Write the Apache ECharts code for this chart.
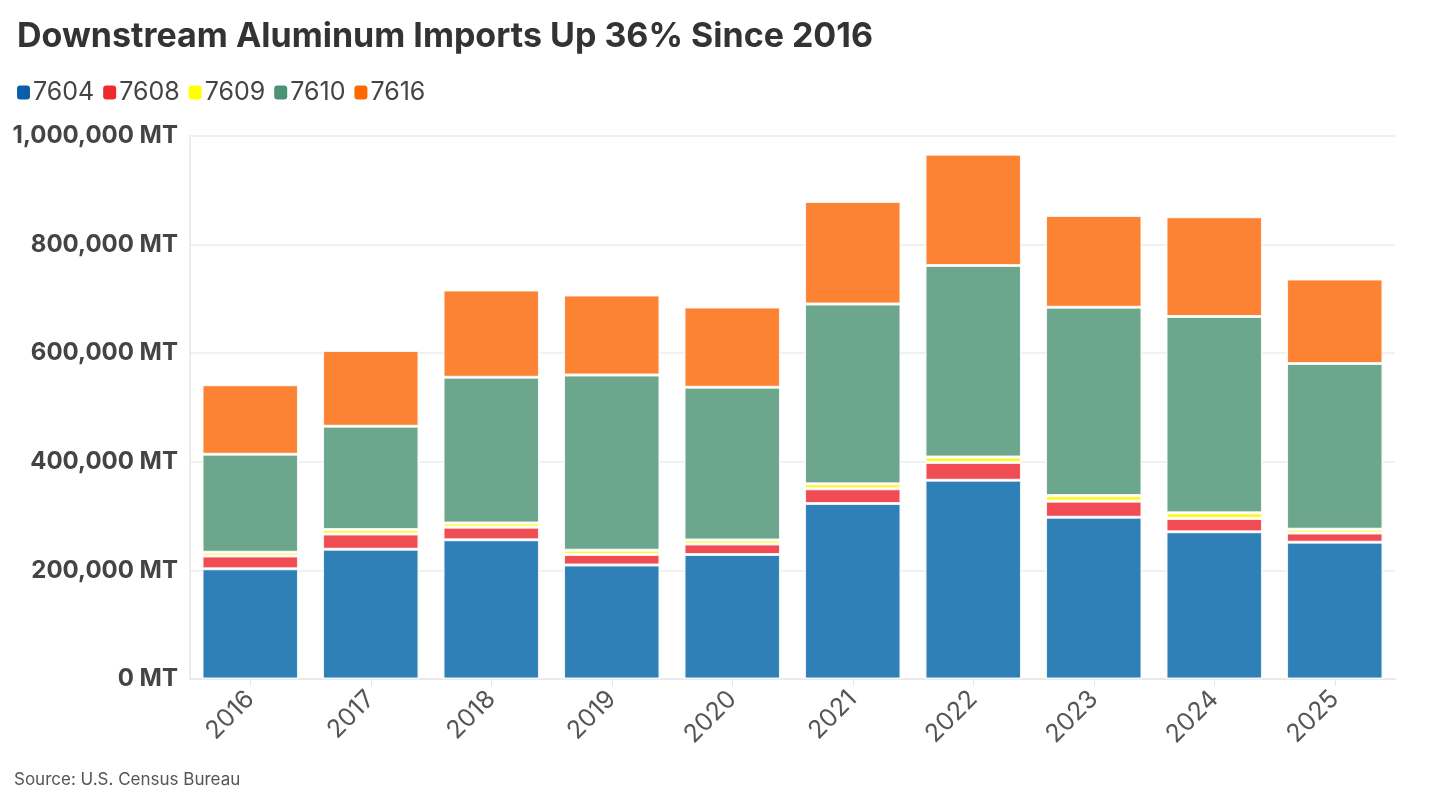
<!DOCTYPE html>
<html><head><meta charset="utf-8">
<script src="https://cdn.jsdelivr.net/npm/echarts@6/dist/echarts.min.js"></script>
<style>html,body{margin:0;padding:0;background:#fff;}#c{width:1431px;height:805px;}</style>
</head><body><div id="c"></div>
<script>
const years = ['2016','2017','2018','2019','2020','2021','2022','2023','2024','2025'];
const s7604 = [203000, 239000, 256500, 210000, 229500, 323000, 366000, 298000, 271000, 252000];
const s7608 = [23500, 28000, 23000, 19500, 19000, 27500, 32500, 29500, 24500, 17000];
const s7609 = [7000, 8500, 8000, 7500, 7500, 9000, 10500, 10500, 10500, 7000];
const s7610 = [180500, 190000, 268000, 323000, 281500, 331000, 352500, 346500, 361500, 305000];
const s7616 = [128000, 139500, 161000, 147000, 147500, 189000, 205000, 169000, 184000, 155500];
const seriesNames = ['7604','7608','7609','7610','7616'];
const yTicks = [0, 200000, 400000, 600000, 800000, 1000000];

const legendColors = ['#0a5fa8','#ee2a2a','#ffff00','#4a9473','#ff6a00'];
const barColors = ['#3080b8','#f04c53','#fff830','#6ca78d','#fc8334'];
const dataSets = [s7604, s7608, s7609, s7610, s7616];
const FONT = 'Inter, "Open Sans", sans-serif';

const chart = echarts.init(document.getElementById('c'));
chart.setOption({
  animation: false,
  textStyle: {fontFamily: FONT},
  title: {
    text: 'Downstream Aluminum Imports Up 36% Since 2016',
    left: 12, top: 15,
    textStyle: {fontSize: 34, fontWeight: 700, color: '#333', fontFamily: FONT}
  },
  legend: {
    left: 12, top: 75,
    itemWidth: 13, itemHeight: 14, itemGap: 9,
    icon: 'roundRect',
    textStyle: {fontSize: 25, color: '#444', fontFamily: FONT, padding: [0,0,0,-2]},
    data: seriesNames.map((n, i) => ({name: n, itemStyle: {color: legendColors[i], opacity: 1, borderWidth: 0}}))
  },
  grid: {left: 190, right: 36, top: 136, bottom: 126},
  xAxis: {
    type: 'category', data: years,
    axisLine: {lineStyle: {color: '#e6e6e6', width: 1.5}},
    axisTick: {show: true, alignWithLabel: true, length: 7, lineStyle: {color: '#e6e6e6'}},
    axisLabel: {rotate: 45, fontSize: 25, color: '#555', margin: 16, padding: [18,0,0,0], fontFamily: FONT}
  },
  yAxis: {
    type: 'value', min: 0, max: 1000000, interval: 200000,
    axisLine: {show: true, lineStyle: {color: '#e6e6e6', width: 1.5}},
    splitLine: {lineStyle: {color: '#ececec', width: 1.5}},
    axisLabel: {
      fontSize: 24, fontWeight: 700, color: '#444', margin: 12, fontFamily: FONT,
      formatter: v => yTicks.includes(v) ? v.toLocaleString('en-US') + ' MT' : ''
    }
  },
  series: seriesNames.map((n, i) => ({
    name: n, type: 'bar', stack: 'total',
    barCategoryGap: '20%',
    data: dataSets[i],
    itemStyle: {color: barColors[i], borderColor: 'rgba(255,255,255,0.85)', borderWidth: 1.5}
  })),
  graphic: [{
    type: 'text', left: 14, top: 771,
    style: {text: 'Source: U.S. Census Bureau', fontSize: 17, fill: '#555', fontFamily: FONT}
  }]
});
</script></body></html>
